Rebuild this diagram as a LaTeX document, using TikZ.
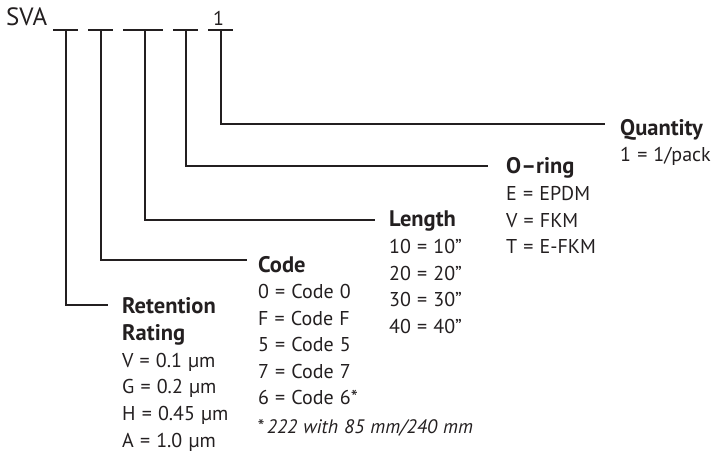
\documentclass[tikz,border=0pt]{standalone}
\usepackage{fontspec}
\setmainfont{PT Sans}[WordSpace=1.15]
\definecolor{ink}{RGB}{35,31,32}
\begin{document}
\begin{tikzpicture}[x=1pt,y=-1pt,
  ln/.style={line width=1.2pt, draw=ink},
  txt/.style={anchor=base west, inner sep=0pt, font=\fontsize{20}{22}\selectfont, text=ink},
  hd/.style={anchor=base west, inner sep=0pt, font=\fontsize{22.5}{24}\selectfont\bfseries, text=ink},
  big/.style={anchor=base west, inner sep=0pt, font=\fontsize{25}{27}\selectfont, text=ink},
  note/.style={anchor=base west, inner sep=0pt, font=\fontsize{19.5}{22}\selectfont\itshape, text=ink}]
\useasboundingbox (0,0) rectangle (711,455);

% part number
\node[big] (sva) at (6,25) {SVA};
\node[txt] (one) at (213,25) {1};

% blanks
\foreach \i/\a/\b in {1/53/78, 2/88/113, 3/123/163, 4/173/198, 5/208/233} {
  \coordinate (bl\i) at (\a,30);
  \coordinate (br\i) at (\b,30);
  \draw[ln] (bl\i) -- (br\i);
}
\coordinate (t1) at (66,30);
\coordinate (t2) at (101,30);
\coordinate (t3) at (145,30);
\coordinate (t4) at (186,30);
\coordinate (t5) at (221,30);

\coordinate (e1) at (108,305);
\coordinate (e2) at (247,260);
\coordinate (e3) at (375,220);
\coordinate (e4) at (488,166);
\coordinate (e5) at (605,124);

\foreach \i in {1,...,5} { \draw[ln] (t\i) |- (e\i); }

% Quantity
\node[hd] (qh) at (620,135) {Quantity};
\node[txt] (q1) at (620,161) {1 = 1/pack};

% O-ring
\node[hd] (oh) at (506,173) {O–ring};
\node[txt] (o1) at (506,200) {E = EPDM};
\node[txt] (o2) at (506,227) {V = FKM};
\node[txt] (o3) at (506,253) {T = E-FKM};

% Length
\node[hd] (lh) at (389,226) {Length};
\node[txt] (l1) at (389,253) {10 = 10"};
\node[txt] (l2) at (389,280) {20 = 20"};
\node[txt] (l3) at (389,306) {30 = 30"};
\node[txt] (l4) at (389,333) {40 = 40"};

% Code
\node[hd] (ch) at (258,272) {Code};
\node[txt] (c1) at (258,298) {0 = Code 0};
\node[txt] (c2) at (258,325) {F = Code F};
\node[txt] (c3) at (258,351) {5 = Code 5};
\node[txt] (c4) at (258,378) {7 = Code 7};
\node[txt] (c5) at (258,404) {6 = Code 6*};
\node[note] (fn) at (257,433) {*\,222 with 85 mm/240 mm};

% Retention rating
\node[hd] (rh1) at (122,313) {Retention};
\node[hd] (rh2) at (122,340) {Rating};
\node[txt] (r1) at (122,367) {V = 0.1 µm};
\node[txt] (r2) at (122,393) {G = 0.2 µm};
\node[txt] (r3) at (122,420) {H = 0.45 µm};
\node[txt] (r4) at (122,447) {A = 1.0 µm};
\end{tikzpicture}
\end{document}
